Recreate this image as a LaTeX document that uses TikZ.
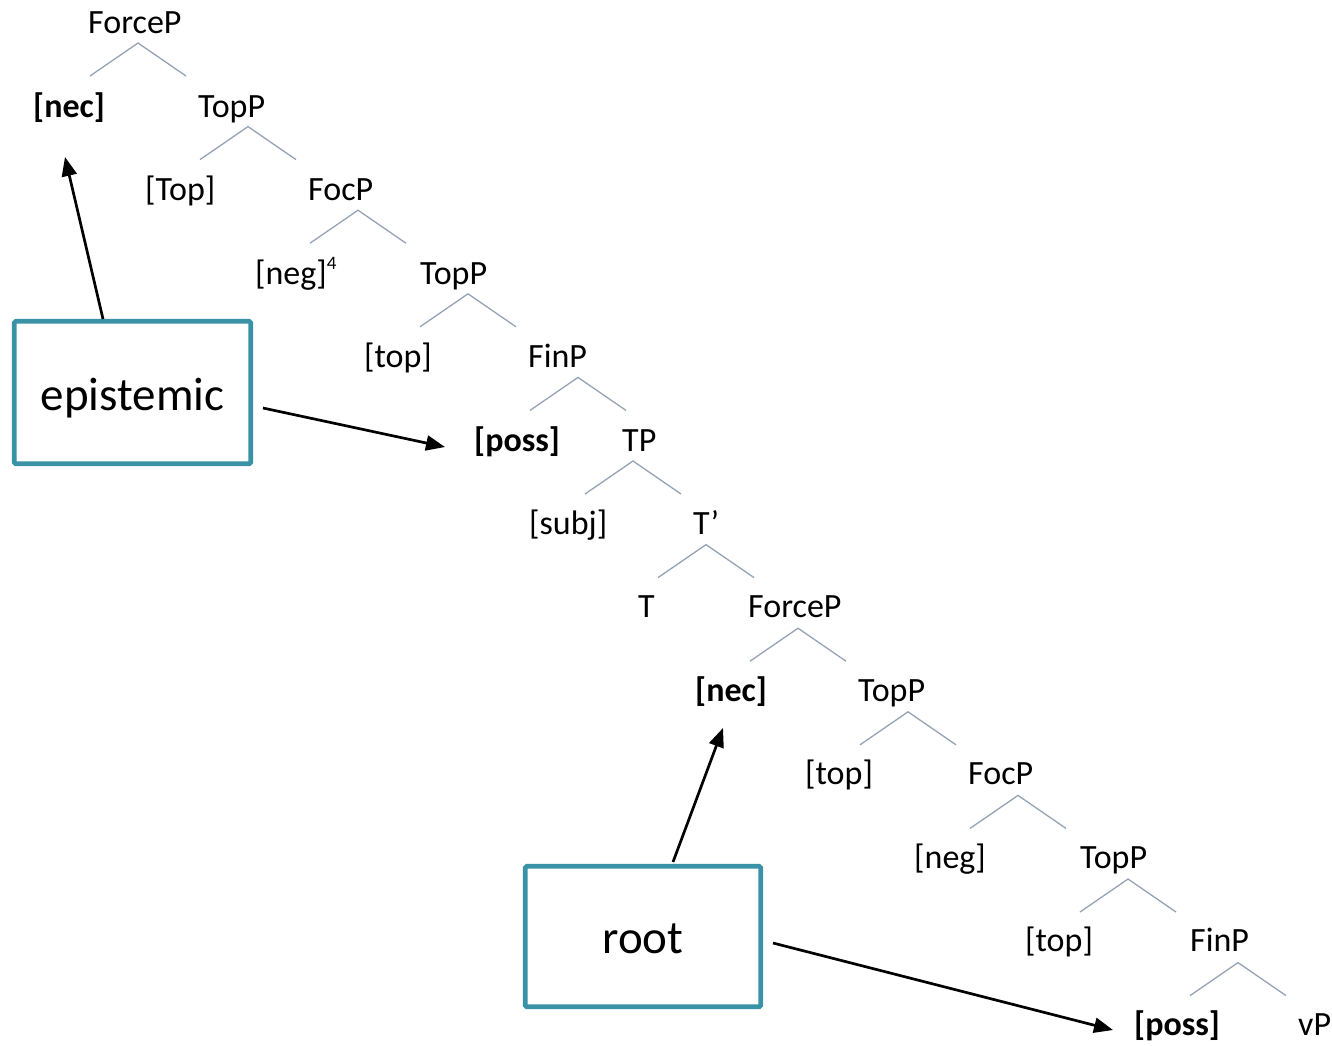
\documentclass[tikz,border=0pt]{standalone}
\usepackage{fontspec}
\setmainfont{Carlito}
\usetikzlibrary{arrows.meta}
\definecolor{boxteal}{RGB}{58,146,166}
\definecolor{branchcol}{RGB}{150,162,182}
\begin{document}
\begin{tikzpicture}[x=1pt,y=-1pt,
  lab/.style={anchor=base west,inner sep=0pt,font=\fontsize{34}{40}\selectfont},
  blab/.style={anchor=base west,inner sep=0pt,font=\fontsize{34}{40}\selectfont\bfseries},
  branchline/.style={draw=branchcol,line width=1.3pt},
  tealbox/.style={draw=boxteal,line width=4.6pt,rounded corners=1.5pt,fill=white,inner sep=0pt},
  boxlab/.style={anchor=base,inner sep=0pt,font=\fontsize{47}{52}\selectfont},
  pointer/.style={draw=black,line width=2.7pt,-{Triangle[length=19pt,width=15pt]}}
]
\path[fill=white,use as bounding box] (0,0) rectangle (1332,1045);

% tree branches
\foreach \i/\ax in {0/138,1/248,2/358,3/468,4/578,5/633,6/706,7/798,8/908,9/1018,10/1128,11/1238}{
  \pgfmathsetmacro\ay{43+83.6*\i}
  \coordinate (a\i) at (\ax,\ay);
  \coordinate (l\i) at (\ax-48,\ay+33);
  \coordinate (r\i) at (\ax+48,\ay+33);
  \draw[branchline] (l\i) -- (a\i) -- (r\i);
}

% tree labels
\node[lab]  (forceA) at (88,33)    {ForceP};
\node[blab] (necA)   at (33,117)   {[nec]};
\node[lab]  (topPA)  at (198,117)  {TopP};
\node[lab]  (TopA)   at (145,200.5){[Top]};
\node[lab]  (focA)   at (308,200.5){FocP};
\node[lab]  (negA)   at (255,284)  {[neg]\raisebox{15pt}{\fontsize{19}{19}\selectfont 4}};
\node[lab]  (topPB)  at (420,284)  {TopP};
\node[lab]  (topA)   at (364,367)  {[top]};
\node[lab]  (finA)   at (528,367)  {FinP};
\node[blab] (possA)  at (474,451)  {[poss]};
\node[lab]  (TP)     at (622,451)  {TP};
\node[lab]  (subj)   at (529,534)  {[subj]};
\node[lab]  (Tbar)   at (693,534)  {T’};
\node[lab]  (T)      at (638,617)  {T};
\node[lab]  (forceB) at (748,617)  {ForceP};
\node[blab] (necB)   at (695,701)  {[nec]};
\node[lab]  (topPC)  at (858,701)  {TopP};
\node[lab]  (topB)   at (805,784)  {[top]};
\node[lab]  (focB)   at (968,784)  {FocP};
\node[lab]  (negB)   at (914,868)  {[neg]};
\node[lab]  (topPD)  at (1080,868) {TopP};
\node[lab]  (topC)   at (1025,951) {[top]};
\node[lab]  (finB)   at (1190,951) {FinP};
\node[blab] (possB)  at (1134,1035){[poss]};
\node[lab]  (vP)     at (1298,1035){vP};

% boxes
\node[tealbox,minimum width=236.5pt,minimum height=142.5pt] (epi)  at (132.5,392.5) {};
\node[boxlab] (epitext) at (132.5,410) {epistemic};
\node[tealbox,minimum width=235.5pt,minimum height=140.5pt] (root) at (643,936.5) {};
\node[boxlab] (roottext) at (643,953) {root};

% arrow end points
\coordinate (e1s) at (103,319);
\coordinate (e1t) at (65,157);
\coordinate (e2s) at (263,408);
\coordinate (e2t) at (445,447);
\coordinate (r1s) at (673,862);
\coordinate (r1t) at (723,728);
\coordinate (r2s) at (773,943);
\coordinate (r2t) at (1113,1030);

\draw[pointer] (e1s) -- (e1t);
\draw[pointer] (e2s) -- (e2t);
\draw[pointer] (r1s) -- (r1t);
\draw[pointer] (r2s) -- (r2t);
\end{tikzpicture}
\end{document}
